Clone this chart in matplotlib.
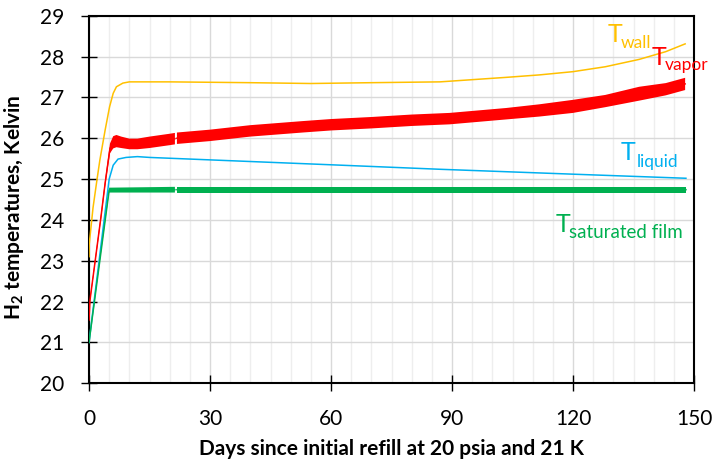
import numpy as np
import matplotlib
matplotlib.use("Agg")
import matplotlib.pyplot as plt
from matplotlib.ticker import MultipleLocator

plt.rcParams['font.family'] = ['Lato', 'DejaVu Sans']
plt.rcParams['mathtext.fontset'] = 'custom'
plt.rcParams['mathtext.rm'] = 'Lato'
plt.rcParams['mathtext.bf'] = 'Lato:bold'

# ---- data ----
wall_days = [0, 0.05, 1, 2, 2.7, 4, 5.1, 6, 6.8, 8.4, 10, 20, 40, 55, 70, 87, 103.4, 111.6, 120, 128, 136.4, 143, 147.8]
wall_temp = [23.1, 23.4, 24.3, 25.0, 25.47, 26.2, 26.77, 27.1, 27.26, 27.35, 27.38, 27.38, 27.36, 27.34, 27.36, 27.38, 27.49, 27.55, 27.63, 27.75, 27.93, 28.12, 28.31]

vapor_days = [0, 0.25, 1, 2, 3, 4, 5.2, 6, 6.8, 8, 10, 12, 15, 20, 21.3, np.nan, 21.8, 30, 40, 53, 60, 70, 80, 89.4, 103.4, 111.6, 120, 128, 136.4, 143, 147.8]
vapor_mid = [21.55, 22.04, 22.6, 23.35, 24.1, 24.9, 25.75, 25.9, 25.93, 25.9, 25.86, 25.86, 25.9, 25.97, 25.99, np.nan, 26.0, 26.07, 26.18, 26.28, 26.33, 26.38, 26.44, 26.48, 26.6, 26.68, 26.78, 26.91, 27.09, 27.2, 27.33]
vapor_half = [0.05, 0.05, 0.06, 0.07, 0.08, 0.09, 0.12, 0.15, 0.15, 0.14, 0.13, 0.13, 0.14, 0.14, 0.14, np.nan, 0.14, 0.14, 0.14, 0.14, 0.14, 0.14, 0.14, 0.14, 0.14, 0.15, 0.16, 0.15, 0.17, 0.15, 0.15]

liquid_days = [0, 2, 4, 5, 6, 7.2, 9.2, 12, 15, 30, 60, 87, 120, 148]
liquid_temp = [21.0, 22.6, 24.2, 25.0, 25.34, 25.49, 25.53, 25.55, 25.53, 25.47, 25.35, 25.24, 25.12, 25.02]

film_days = [0, 5, 21.3, np.nan, 21.8, 148]
film_mid = [21.0, 24.73, 24.74, np.nan, 24.74, 24.74]
film_half = [0.0, 0.06, 0.07, np.nan, 0.07, 0.07]

x_ticks = [0, 30, 60, 90, 120, 150]
y_ticks = [20, 21, 22, 23, 24, 25, 26, 27, 28, 29]

c_wall = '#FFC000'
c_vapor = '#FF0000'
c_liquid = '#00B0F0'
c_film = '#00B050'

W, H = 721, 462
fig = plt.figure(figsize=(W / 100, H / 100), dpi=100)
ax = fig.add_axes([89 / W, 1 - 383.3 / H, (694 - 89) / W, (383.3 - 15.7) / H])

ax.set_xlim(0, 150)
ax.set_ylim(20, 29)

# grid
ax.xaxis.set_minor_locator(MultipleLocator(5))
ax.set_xticks(x_ticks)
ax.set_yticks(y_ticks)
ax.grid(True, which='major', axis='both', color='#d9d9d9', lw=1.0, zorder=0)
ax.grid(True, which='minor', axis='x', color='#eeeeee', lw=1.0, zorder=0)
ax.set_axisbelow(True)

vd = np.array(vapor_days, dtype=float)
vm = np.array(vapor_mid, dtype=float)
vh = np.array(vapor_half, dtype=float)
fd = np.array(film_days, dtype=float)
fm = np.array(film_mid, dtype=float)
fh = np.array(film_half, dtype=float)

ax.plot(wall_days, wall_temp, color=c_wall, lw=1.1, zorder=3)
ax.plot(liquid_days, liquid_temp, color=c_liquid, lw=1.1, zorder=3)
ax.fill_between(fd, fm - fh, fm + fh, color=c_film, lw=0, zorder=3)
ax.plot(fd, fm, color=c_film, lw=1.1, zorder=3)
ax.fill_between(vd, vm - vh, vm + vh, color=c_vapor, lw=0, zorder=4)
ax.plot(vd, vm, color=c_vapor, lw=1.1, zorder=4)

# spines & ticks
for s in ax.spines.values():
    s.set_linewidth(1.5)
    s.set_color('black')
ax.tick_params(axis='both', which='major', direction='inout', length=11.5, width=1.0,
               labelsize=15, colors='black')
ax.tick_params(axis='x', which='major', pad=12.5)
ax.tick_params(axis='y', which='major', pad=12.0)
ax.tick_params(axis='x', which='minor', length=0)

fig.text(391.5 / W, 1 - 455 / H, 'Days since initial refill at 20 psia and 21 K',
         fontsize=15, fontweight='bold', ha='center', va='baseline')
fig.text(20.5 / W, 1 - 207.5 / H, r'$\mathbf{H_2}$ temperatures, Kelvin',
         fontsize=15, fontweight='bold', ha='center', va='baseline',
         rotation=90, rotation_mode='anchor')

# curve labels
def lab(xT, yT, xs, ys, sub, color, subsize=12.5):
    ax.text(xT, yT, 'T', color=color, fontsize=18, ha='left', va='baseline', zorder=6)
    ax.text(xs, ys, sub, color=color, fontsize=subsize, ha='left', va='baseline', zorder=6)

lab(128.7, 28.355, 131.9, 28.2, 'wall', c_wall)
lab(139.6, 27.79, 142.8, 27.67, 'vapor', c_vapor)
lab(131.9, 25.47, 135.9, 25.3, 'liquid', c_liquid)
lab(115.6, 23.70, 119.1, 23.55, 'saturated film', c_film, subsize=13.5)

fig.savefig('out.png', dpi=100)
